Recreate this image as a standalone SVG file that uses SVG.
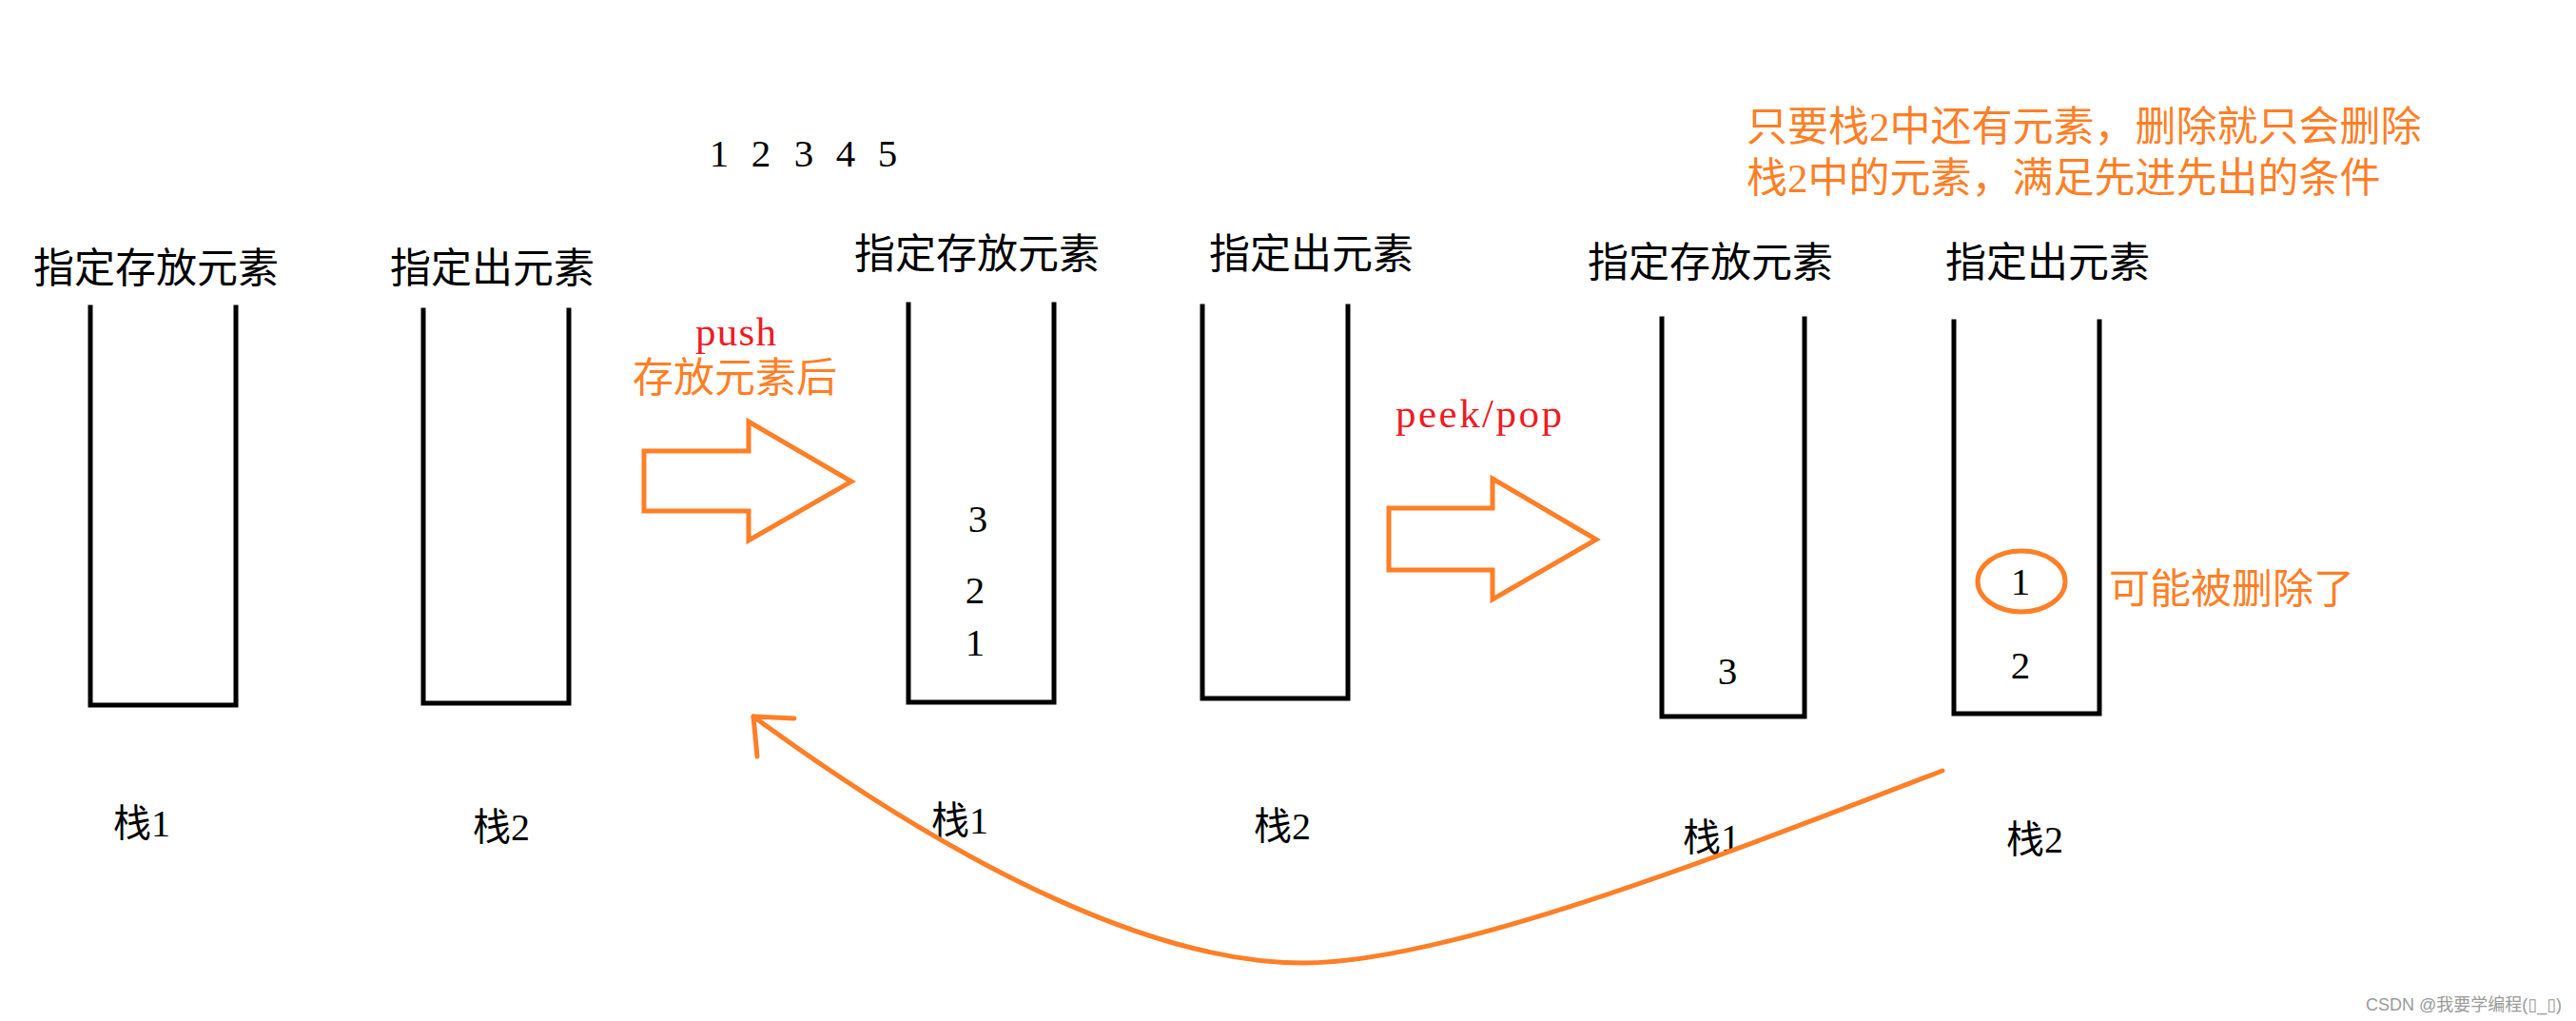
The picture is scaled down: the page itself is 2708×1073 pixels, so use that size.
<svg xmlns="http://www.w3.org/2000/svg" width="2708" height="1073" viewBox="0 0 2708 1073">
<style>
.stack{fill:none;stroke:#000;stroke-width:5;stroke-linecap:square}
.hdr{font-family:"Liberation Serif","Noto Sans CJK SC",serif;font-size:43px;fill:#000}
.lbl{font-family:"Liberation Serif","Noto Sans CJK SC",serif;font-size:40px;fill:#000}
.num{font-family:"Liberation Serif",serif;font-size:41px;fill:#000;text-anchor:middle}
.otxt{font-family:"Liberation Serif","Noto Sans CJK SC",serif;font-size:43px;fill:#FF7F27}
.rtxt{font-family:"Liberation Serif",serif;font-size:43px;fill:#ED1C24}
.blk{fill:none;stroke:#FF7F27;stroke-width:5;stroke-linejoin:miter}
.curve{fill:none;stroke:#FF7F27;stroke-width:5;stroke-linecap:round;stroke-linejoin:round}
.wm{font-family:"Liberation Sans","Noto Sans CJK SC","DejaVu Sans",sans-serif;font-size:18px;fill:#9a9a9a}
</style>
<rect width="2708" height="1073" fill="#fff"/>

<g id="seq">
<text class="num" x="756" y="175">1</text>
<text class="num" x="800" y="175">2</text>
<text class="num" x="845" y="175">3</text>
<text class="num" x="889" y="175">4</text>
<text class="num" x="933" y="175">5</text>
</g>

<g id="stack1a">
<text class="hdr" x="35" y="297">指定存放元素</text>
<path class="stack" d="M95 323 V741 H248 V323"/>
<text class="lbl" x="119" y="879">栈1</text>
</g>

<g id="stack2a">
<text class="hdr" x="410" y="297">指定出元素</text>
<path class="stack" d="M445 326 V739 H598 V326"/>
<text class="lbl" x="497" y="883">栈2</text>
</g>

<g id="stack1b">
<text class="hdr" x="898" y="282">指定存放元素</text>
<path class="stack" d="M955 320 V738 H1108 V320"/>
<text class="num" x="1028" y="559">3</text>
<text class="num" x="1025" y="634">2</text>
<text class="num" x="1025" y="689">1</text>
<text class="lbl" x="979" y="876">栈1</text>
</g>

<g id="stack2b">
<text class="hdr" x="1271" y="282">指定出元素</text>
<path class="stack" d="M1264 322 V734 H1417 V322"/>
<text class="lbl" x="1318" y="882">栈2</text>
</g>

<g id="stack1c">
<text class="hdr" x="1669" y="291">指定存放元素</text>
<path class="stack" d="M1747 335 V753 H1897 V335"/>
<text class="num" x="1816" y="719">3</text>
<text class="lbl" x="1769" y="894">栈1</text>
</g>

<g id="stack2c">
<text class="hdr" x="2045" y="291">指定出元素</text>
<path class="stack" d="M2054 338 V750 H2207 V338"/>
<ellipse cx="2125" cy="611" rx="46" ry="32" fill="none" stroke="#FF7F27" stroke-width="5"/>
<text class="num" x="2124" y="625">1</text>
<text class="num" x="2124" y="713">2</text>
<text class="lbl" x="2109" y="896">栈2</text>
</g>

<g id="note">
<text class="otxt" x="1836" y="148">只要栈2中还有元素，删除就只会删除</text>
<text class="otxt" x="1836" y="202">栈2中的元素，满足先进先出的条件</text>
</g>

<g id="removed-note">
<text class="otxt" x="2217" y="634">可能被删除了</text>
</g>

<g id="connectors">
<g id="push-arrow">
<polygon class="blk" points="677,474 787,474 787,443 895,506 787,568 787,537 677,537"/>
<text class="rtxt" x="731" y="363" textLength="85">push</text>
<text class="otxt" x="665" y="412">存放元素后</text>
</g>
<g id="peek-arrow">
<polygon class="blk" points="1460,534 1569,534 1569,503 1678,567 1569,630 1569,599 1460,599"/>
<text class="rtxt" x="1467" y="449" textLength="175">peek/pop</text>
</g>
<g id="back-arrow">
<path class="curve" d="M2042 810 C1800 903 1520 1012 1370 1012 C1220 1012 1020 920 792 753"/>
<polyline class="curve" points="835,755 792,753 796,795"/>
</g>
</g>

<text class="wm" x="2487" y="1062">CSDN @我要学编程(▯_▯)</text>
</svg>
